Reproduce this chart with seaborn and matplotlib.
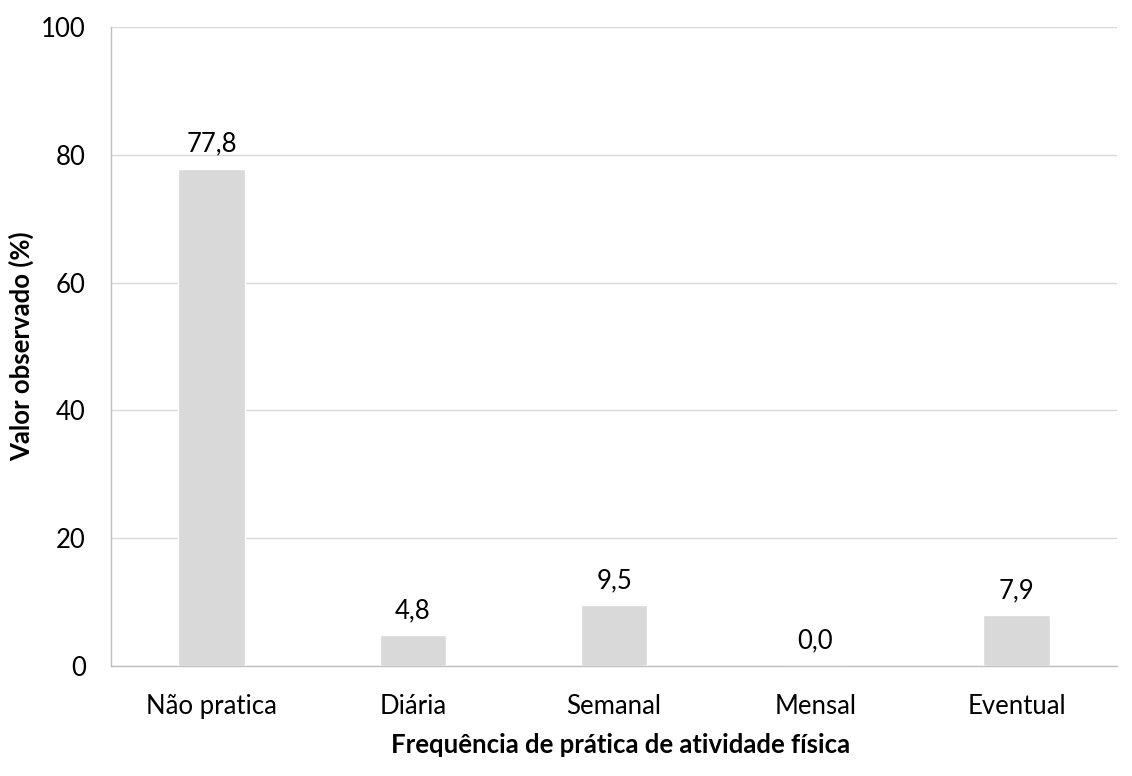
import numpy as np
import pandas as pd
import seaborn as sns
import matplotlib.pyplot as plt

# Data
categorias = ['Não pratica', 'Diária', 'Semanal', 'Mensal', 'Eventual']
valores = [77.8, 4.8, 9.5, 0.0, 7.9]
rotulos = ['77,8', '4,8', '9,5', '0,0', '7,9']

df = pd.DataFrame({'freq': categorias, 'valor': valores})

sns.set_theme(style="white")
plt.rcParams['font.family'] = ['Lato', 'DejaVu Sans']
plt.rcParams['text.color'] = '#000000'
plt.rcParams['axes.labelcolor'] = '#000000'

fig = plt.figure(figsize=(11.32, 7.76), dpi=100)
ax = fig.add_axes([0.098, 0.142, 0.889, 0.823])

sns.barplot(data=df, x='freq', y='valor', color='#d9d9d9', width=0.33,
            saturation=1, ax=ax, zorder=3)

# data labels above bars
for p, lab in zip(ax.patches, rotulos):
    ax.text(p.get_x() + p.get_width() / 2, p.get_height() + 1.9, lab,
            ha='center', va='bottom', fontsize=18.5, color='#000000')

ax.set_ylim(0, 100)
ax.set_xlim(-0.5, 4.5)
ax.set_yticks([0, 20, 40, 60, 80, 100])
ax.yaxis.grid(True, color='#d9d9d9', linewidth=1, zorder=0)
ax.tick_params(axis='both', labelsize=18.5, length=0, colors='#000000')
ax.tick_params(axis='x', pad=20)
ax.tick_params(axis='y', pad=18)

for s in ['top', 'right']:
    ax.spines[s].set_visible(False)
for s in ['left', 'bottom']:
    ax.spines[s].set_color('#bfbfbf')
    ax.spines[s].set_linewidth(1)

ax.set_xlabel('Frequência de prática de atividade física', fontsize=18.5,
              fontweight='bold')
ax.set_ylabel('Valor observado (%)', fontsize=18.5, fontweight='bold')
ax.xaxis.label.set_va('center')
ax.yaxis.label.set_va('center')
ax.xaxis.set_label_coords(0.506, -0.124)
ax.yaxis.set_label_coords(-0.0885, 0.5)

fig.savefig('out.png', dpi=100)
